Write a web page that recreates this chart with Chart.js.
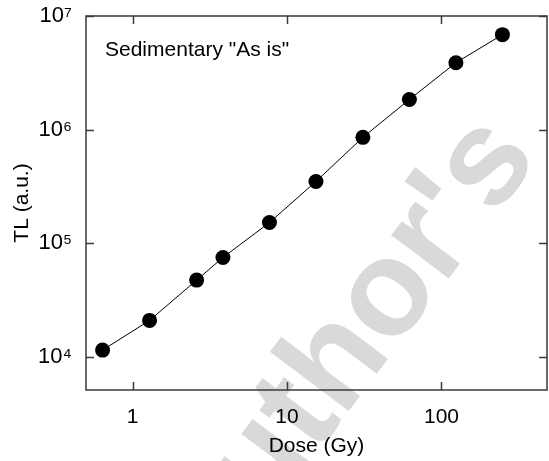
<!DOCTYPE html>
<html><head><meta charset="utf-8">
<script src="https://cdn.jsdelivr.net/npm/chart.js@4.4.0/dist/chart.umd.min.js"></script>
<style>html,body{margin:0;padding:0;background:#fff}canvas{display:block}</style>
</head><body>
<canvas id="c" width="549" height="461"></canvas>
<script>
const doses = [0.64, 1.29, 2.6, 3.85, 7.7, 15.4, 31, 62, 124, 248];
const tlValues = [11450, 20900, 47300, 74800, 152000, 349000, 855000, 1840000, 3880000, 6850000];
const xTicks = [1, 10, 100];
const yTicks = [1e4, 1e5, 1e6, 1e7];
const yTickLabels = ['10\u2074', '10\u2075', '10\u2076', '10\u2077'];
const sampleLabel = 'Sedimentary "As is"';
const watermark = "Author's";
const xTitle = 'Dose (Gy)';
const yTitle = 'TL (a.u.)';

const FONT = "'Liberation Sans', Arial, Helvetica, sans-serif";

const framePlugin = {
  id: 'frame',
  beforeDraw(chart) {
    const ctx = chart.ctx;
    ctx.save();
    ctx.fillStyle = '#fff';
    ctx.fillRect(0, 0, chart.width, chart.height);
    ctx.translate(390, 298);
    ctx.rotate(-53 * Math.PI / 180);
    ctx.font = 'bold 136px ' + FONT;
    ctx.fillStyle = '#d9d9d9';
    ctx.textBaseline = 'alphabetic';
    const w = ctx.measureText('Auth').width + ctx.measureText('o').width / 2;
    ctx.fillText(watermark, -w, 35);
    ctx.restore();
  },
  afterDraw(chart) {
    const {ctx, chartArea: a, scales} = chart;
    ctx.save();
    ctx.strokeStyle = '#3a3a3a';
    ctx.lineWidth = 1.5;
    ctx.strokeRect(a.left, a.top, a.right - a.left, a.bottom - a.top);
    ctx.beginPath();
    xTicks.forEach(v => {
      const px = Math.round(scales.x.getPixelForValue(v)) + 0.5;
      ctx.moveTo(px, a.bottom); ctx.lineTo(px, a.bottom - 8);
      ctx.moveTo(px, a.top); ctx.lineTo(px, a.top + 8);
    });
    yTicks.forEach(v => {
      const py = Math.round(scales.y.getPixelForValue(v)) + 0.5;
      ctx.moveTo(a.left, py); ctx.lineTo(a.left + 8, py);
      ctx.moveTo(a.right, py); ctx.lineTo(a.right - 8, py);
    });
    ctx.stroke();
    ctx.font = '21px ' + FONT;
    ctx.fillStyle = '#000';
    ctx.textBaseline = 'middle';
    ctx.textAlign = 'left';
    ctx.fillText(sampleLabel, a.left + 19, a.top + 34);
    ctx.restore();
  }
};

new Chart(document.getElementById('c'), {
  type: 'line',
  data: {
    datasets: [{
      data: doses.map((d, i) => ({x: d, y: tlValues[i]})),
      borderColor: '#000',
      borderWidth: 1,
      pointRadius: 7.5,
      pointBackgroundColor: '#000',
      pointBorderWidth: 0,
      tension: 0,
      fill: false,
      clip: false
    }]
  },
  options: {
    responsive: false,
    animation: false,
    devicePixelRatio: 1,
    layout: {autoPadding: false, padding: {top: 16, right: 2, left: 0, bottom: 0}},
    plugins: {legend: {display: false}, tooltip: {enabled: false}},
    scales: {
      x: {
        type: 'logarithmic', min: 0.5, max: 482, position: 'bottom',
        afterBuildTicks: s => { s.ticks = xTicks.map(v => ({value: v})); },
        afterFit: s => { s.height = 71; s.paddingLeft = 0; s.paddingRight = 0; },
        grid: {display: false, drawTicks: false},
        border: {display: false},
        ticks: {padding: 15, color: '#000', font: {family: FONT, size: 21}, maxRotation: 0, autoSkip: false,
          callback: v => String(v)},
        title: {display: true, text: xTitle, color: '#000', font: {family: FONT, size: 21}, padding: {top: 0, bottom: 2}}
      },
      y: {
        type: 'logarithmic', min: 5100, max: 1e7,
        afterBuildTicks: s => { s.ticks = yTicks.map(v => ({value: v})); },
        afterFit: s => { s.width = 86; s.paddingTop = 0; s.paddingBottom = 0; },
        grid: {display: false, drawTicks: false},
        border: {display: false},
        ticks: {padding: 14, color: '#000', font: {family: FONT, size: 22}, autoSkip: false,
          callback: v => { const i = yTicks.indexOf(v); return i >= 0 ? yTickLabels[i] : ''; }},
        title: {display: true, text: yTitle, color: '#000', font: {family: FONT, size: 21}, padding: {top: 10, bottom: 0}}
      }
    }
  },
  plugins: [framePlugin]
});
</script>
</body></html>
